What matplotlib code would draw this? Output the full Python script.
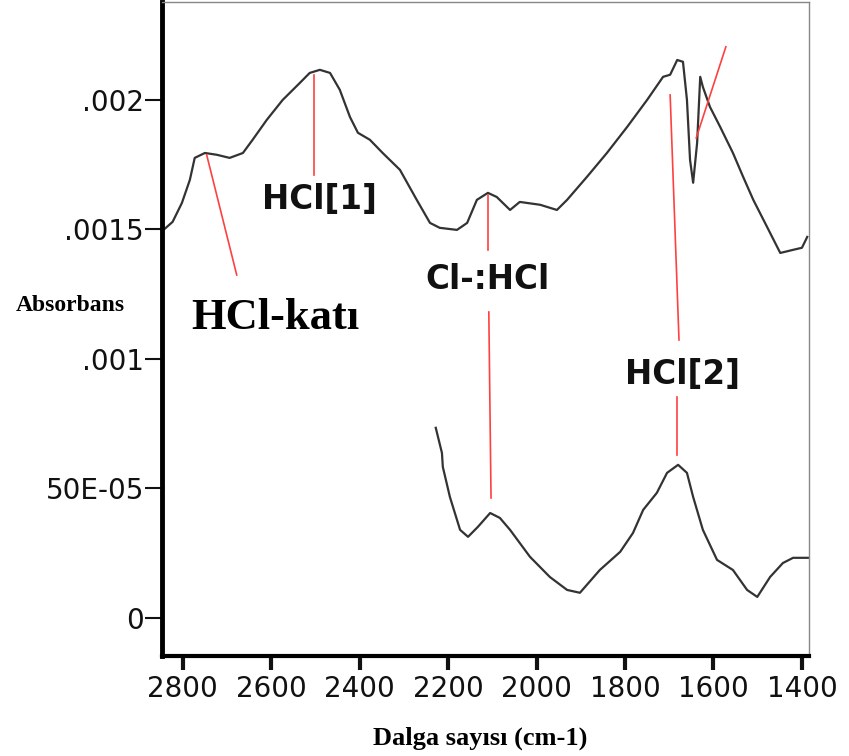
import matplotlib.pyplot as plt

# Ust spektrum (dalga sayisi, absorbans)
ust_dalga = [2841, 2823, 2802, 2784, 2773, 2750, 2723, 2694, 2664, 2642, 2610, 2574,
             2535, 2513, 2490, 2467, 2445, 2422, 2404, 2377, 2348, 2309, 2271, 2241,
             2219, 2180, 2157, 2135, 2110, 2090, 2060, 2038, 1992, 1954, 1931, 1886,
             1841, 1795, 1750, 1714, 1698, 1682, 1669, 1660, 1653, 1646, 1637, 1630,
             1624, 1608, 1585, 1556, 1533, 1510, 1479, 1449, 1420, 1400, 1388]
ust_abs = [0.001502, 0.001529, 0.001602, 0.001691, 0.001776, 0.001795, 0.001788,
           0.001776, 0.001795, 0.001846, 0.001923, 0.002000, 0.002066, 0.002104,
           0.002116, 0.002104, 0.002039, 0.001934, 0.001873, 0.001846, 0.001795,
           0.001730, 0.001614, 0.001525, 0.001506, 0.001498, 0.001525, 0.001614,
           0.001641, 0.001625, 0.001575, 0.001606, 0.001595, 0.001575, 0.001614,
           0.001703, 0.001795, 0.001896, 0.002000, 0.002089, 0.002097, 0.002154,
           0.002147, 0.002000, 0.001768, 0.001680, 0.001834, 0.002089, 0.002050,
           0.001973, 0.001896, 0.001795, 0.001703, 0.001614, 0.001510, 0.001409,
           0.001421, 0.001429, 0.001471]

# Alt spektrum
alt_dalga = [2228, 2214, 2212, 2196, 2173, 2155, 2133, 2105, 2083, 2060, 2015, 1970,
             1931, 1902, 1857, 1811, 1782, 1759, 1728, 1705, 1680, 1660, 1646, 1624,
             1592, 1556, 1524, 1501, 1472, 1443, 1420, 1386]
alt_abs = [0.000734, 0.000637, 0.000583, 0.000467, 0.000340, 0.000313, 0.000351,
           0.000405, 0.000386, 0.000340, 0.000236, 0.000158, 0.000108, 0.000097,
           0.000185, 0.000255, 0.000328, 0.000417, 0.000483, 0.000560, 0.000591,
           0.000560, 0.000467, 0.000340, 0.000224, 0.000185, 0.000108, 0.000081,
           0.000158, 0.000212, 0.000232, 0.000232]

x_ticks = [2800, 2600, 2400, 2200, 2000, 1800, 1600, 1400]
y_ticks = [0, 0.0005, 0.001, 0.0015, 0.002]
y_labels = ['0', '50E-05', '.001', '.0015', '.002']

# kirmizi isaret cizgileri: (x1, y1, x2, y2)
kirmizi = [(2746, 0.001788, 2678, 0.001324),
           (2504, 0.002097, 2504, 0.001710),
           (2110, 0.001633, 2110, 0.001421),
           (2108, 0.001181, 2103, 0.000463),
           (1698, 0.002019, 1678, 0.001073),
           (1682, 0.000853, 1682, 0.000629),
           (1572, 0.002205, 1639, 0.001853)]

etiketler = [('HCl[1]', 2490, 0.001614), ('Cl-:HCl', 2112, 0.001305),
             ('HCl[2]', 1669, 0.000938)]

fig = plt.figure(figsize=(8.49, 7.56), dpi=100)
ax = fig.add_axes([0.1908, 0.1323, 0.7621, 0.8651])

ax.plot(ust_dalga, ust_abs, color='#333333', lw=1.6)
ax.plot(alt_dalga, alt_abs, color='#333333', lw=1.6)

for x1, y1, x2, y2 in kirmizi:
    ax.plot([x1, x2], [y1, y2], color='#ff4040', lw=1.2)

for t, x, y in etiketler:
    ax.text(x, y, t, fontsize=23.5, fontweight='bold', ha='center', va='center',
            color='#111111')

ax.text(2590, 0.001158, 'HCl-katı', fontsize=32, fontweight='bold',
        family='Liberation Serif', ha='center', va='center')

ax.set_xlim(2847, 1384)
ax.set_ylim(-0.000147, 0.002378)
ax.set_xticks(x_ticks)
ax.set_yticks(y_ticks)
ax.set_yticklabels(y_labels)
ax.tick_params(axis='both', labelsize=20, colors='#111111')
ax.tick_params(axis='y', length=12, width=1.5, pad=1)
ax.tick_params(axis='x', length=10, width=3, pad=4)

ax.spines['left'].set_linewidth(3.5)
ax.spines['bottom'].set_linewidth(3)
for s in ['top', 'right']:
    ax.spines[s].set_linewidth(1)
    ax.spines[s].set_color('#888888')

fig.text(70 / 849, 1 - 305 / 756, 'Absorbans', fontsize=17, fontweight='bold',
         family='Liberation Serif', ha='center', va='center')
fig.text(480 / 849, 1 - 738 / 756, 'Dalga sayısı (cm-1)', fontsize=19,
         fontweight='bold', family='Liberation Serif', ha='center', va='center')

fig.savefig('out.png', dpi=100)
